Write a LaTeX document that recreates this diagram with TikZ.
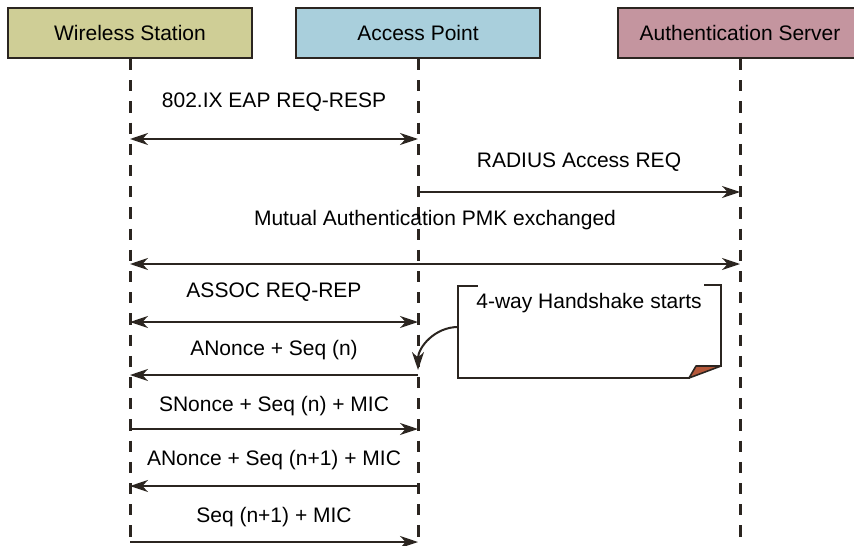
\documentclass[tikz,border=0pt]{standalone}
\usepackage{fontspec}
\setmainfont{Liberation Sans}
\usetikzlibrary{arrows.meta, positioning}

\definecolor{wsfill}{HTML}{CFCE96}
\definecolor{apfill}{HTML}{A9CFDC}
\definecolor{asfill}{HTML}{C4959F}
\definecolor{ink}{HTML}{2B2520}
\definecolor{fold}{HTML}{B5583A}

\begin{document}
\begin{tikzpicture}[x=0.5pt, y=-0.5pt, font=\fontsize{10.5}{12}\selectfont]
\tikzstyle{entity} = [rectangle, minimum width=122pt, minimum height=25pt, draw=ink, line width=1pt]
\tikzstyle{lifeline} = [draw=ink, line width=1.5pt, dash pattern=on 5.6pt off 5pt]
\tikzstyle{msg} = [draw=ink, line width=1pt, >={Stealth[length=9pt, width=6pt, inset=2.8pt]}]
\tikzstyle{msgtext} = [anchor=base, inner sep=0pt, text=black]

\clip (0,0) rectangle (854,545);

% participants
\node (WS) [entity, fill=wsfill] at (130,33) {Wireless Station};
\node (AP) [entity, fill=apfill, right=21pt of WS] {Access Point};
\node (AS) [entity, fill=asfill, right=38pt of AP] {Authentication Server};

% lifelines
\coordinate (WSend) at (WS |- 0,548);
\coordinate (APend) at (AP |- 0,548);
\coordinate (ASend) at (AS |- 0,548);
\draw [lifeline] (WS.south) -- (WSend);
\draw [lifeline] (AP.south) -- (APend);
\draw [lifeline] (AS.south) -- (ASend);

% message end points
\coordinate (ws1) at (WS |- 0,139);  \coordinate (ap1) at (AP |- 0,139);
\coordinate (ap2) at (AP |- 0,192);  \coordinate (as2) at (AS |- 0,192);
\coordinate (ws3) at (WS |- 0,264);  \coordinate (as3) at (AS |- 0,264);
\coordinate (ws4) at (WS |- 0,322);  \coordinate (ap4) at (AP |- 0,322);
\coordinate (ws5) at (WS |- 0,375);  \coordinate (ap5) at (AP |- 0,375);
\coordinate (ws6) at (WS |- 0,429);  \coordinate (ap6) at (AP |- 0,429);
\coordinate (ws7) at (WS |- 0,486);  \coordinate (ap7) at (AP |- 0,486);
\coordinate (ws8) at (WS |- 0,542);  \coordinate (ap8) at (AP |- 0,542);

\draw [msg, <->] (ws1) -- node[msgtext, yshift=15.75pt] {802.IX EAP REQ-RESP} (ap1);
\draw [msg, ->]  (ap2) -- node[msgtext, yshift=12.25pt] {RADIUS Access REQ} (as2);
\draw [msg, <->] (ws3) -- node[msgtext, yshift=19.25pt] {Mutual Authentication PMK exchanged} (as3);
\draw [msg, <->] (ws4) -- node[msgtext, yshift=12.25pt] {ASSOC REQ-REP} (ap4);
\draw [msg, <-]  (ws5) -- node[msgtext, yshift=9.75pt] {ANonce + Seq (n)} (ap5);
\draw [msg, ->]  (ws6) -- node[msgtext, yshift=8.75pt] {SNonce + Seq (n) + MIC} (ap6);
\draw [msg, <-]  (ws7) -- node[msgtext, yshift=10.25pt] {ANonce + Seq (n+1) + MIC} (ap7);
\draw [msg, ->]  (ws8) -- node[msgtext, yshift=9.75pt] {Seq (n+1) + MIC} (ap8);

% handshake note
\node (note) [text=black] at (589,303) {4-way Handshake starts};
\draw [draw=ink, line width=1.4pt, line cap=rect] (477,286) -- (458,286) -- (458,378) -- (689,378);
\draw [draw=ink, line width=1.4pt, line cap=rect] (705,285) -- (721,285) -- (721,366);
\draw [draw=ink, line width=0.8pt, fill=fold, line join=round] (689,378) -- (696,366) -- (721,366) -- cycle;
\coordinate (notein) at (458,327);
\coordinate (apnote) at (AP |- 0,370);
\draw [msg, ->] (notein) to[out=180, in=90] (apnote);

\end{tikzpicture}
\end{document}
